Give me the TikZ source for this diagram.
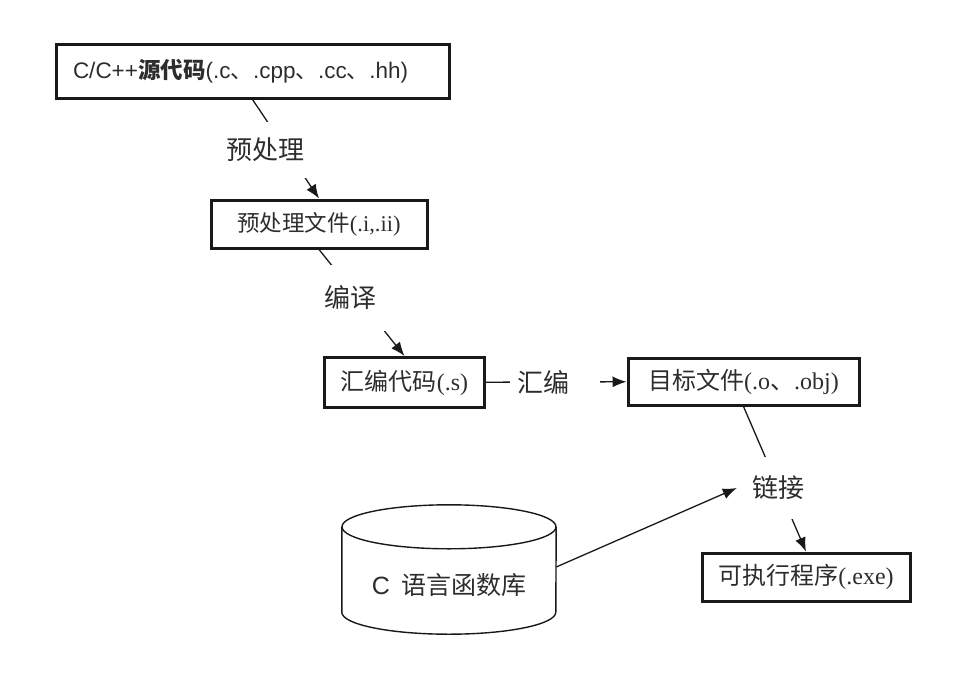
\documentclass[tikz,border=0pt]{standalone}
\usepackage{fontspec}
\setmainfont{Noto Sans CJK SC}
\newfontfamily\latinsans{Liberation Sans}
\newfontfamily\latinserif{Liberation Serif}
\usetikzlibrary{positioning, arrows.meta, calc, backgrounds}
\definecolor{inkcolor}{RGB}{45,45,45}
\definecolor{edgecolor}{RGB}{25,25,25}

\tikzset{
  filebox/.style={draw=edgecolor, line width=3pt, inner sep=0pt, text=inkcolor, font=\fontsize{24}{28}\selectfont},
  steplabel/.style={fill=white, inner xsep=4pt, text=inkcolor, font=\fontsize{26}{30}\selectfont},
  flowline/.style={draw=edgecolor, line width=1.3pt},
  flowarrow/.style={flowline, -{Latex[length=14pt, width=11pt]}},
}

\begin{document}
\begin{tikzpicture}[x=1pt, y=1pt]
    \useasboundingbox (0,0) rectangle (957,-685);
    \def\cylrx{107}
    \def\cylry{22}

    % Fichiers
    \node[filebox, font=\fontsize{22.5}{27}\selectfont, minimum height=53pt, text width=359pt, inner xsep=17pt, align=left] (src) at (252.5,-71.5)
      {{\latinsans C/C++}{\bfseries 源代码}{\latinsans (.c}、{\latinsans .cpp}、{\latinsans .cc}、{\latinsans .hh)}};
    \node[filebox, font=\fontsize{22.5}{27}\selectfont, minimum width=216pt, minimum height=48pt] (pre) at (319,-224) {预处理文件{\latinserif (.i,.ii)}};
    \node[filebox, minimum width=160pt, minimum height=50pt] (asm) at (404.5,-382.5) {汇编代码{\latinserif (.s)}};
    \node[filebox, minimum width=231pt, minimum height=47pt] (obj) at (743.5,-381.5) {目标文件{\latinserif (.o}、{\latinserif .obj)}};
    \node[filebox, minimum width=208pt, minimum height=48pt] (exe) at (806,-577) {可执行程序{\latinserif (.exe)}};

    % Bibliotheque (cylindre)
    \node[minimum width=2*\cylrx, minimum height=129pt, inner sep=0pt] (lib) at (449,-569.5) {};
    \node[text=inkcolor, font=\fontsize{25}{30}\selectfont] (libname) at ([yshift=-15.5pt]lib.center) {{\latinsans C}\hspace{0.45em}语言函数库};
    \draw[edgecolor, line width=1.4pt] ([yshift=-\cylry]lib.north west) -- ([yshift=\cylry]lib.south west)
      arc[start angle=180, end angle=360, x radius=\cylrx, y radius=\cylry] -- ([yshift=-\cylry]lib.north east);
    \draw[edgecolor, line width=1.4pt] ([yshift=-\cylry]lib.north) ellipse[x radius=\cylrx, y radius=\cylry];

    % Etapes
    \node[steplabel, inner ysep=16pt] (pp) at (265,-150) {预处理};
    \node[steplabel, inner xsep=9pt, inner ysep=21pt] (cc) at (350,-298) {编译};
    \node[steplabel, inner xsep=7pt, fill=none] (as) at (543,-382) {汇编};
    \node[steplabel, inner xsep=15pt, inner ysep=19pt] (ld) at (778,-488) {链接};

    % Fleches
    \begin{scope}[on background layer]
      \draw[flowarrow] (src.south) -- (pre.north);
      \draw[flowarrow] (pre.south) -- (asm.north);
      \draw[flowline] (asm) -- (as);
      \draw[flowarrow, shorten <=24pt] (as) -- (obj);
      \draw[flowarrow] (obj.south) -- (exe.north);
      \draw[flowarrow] ([yshift=2.5pt]lib.east) -- (ld.west);
    \end{scope}
\end{tikzpicture}
\end{document}
